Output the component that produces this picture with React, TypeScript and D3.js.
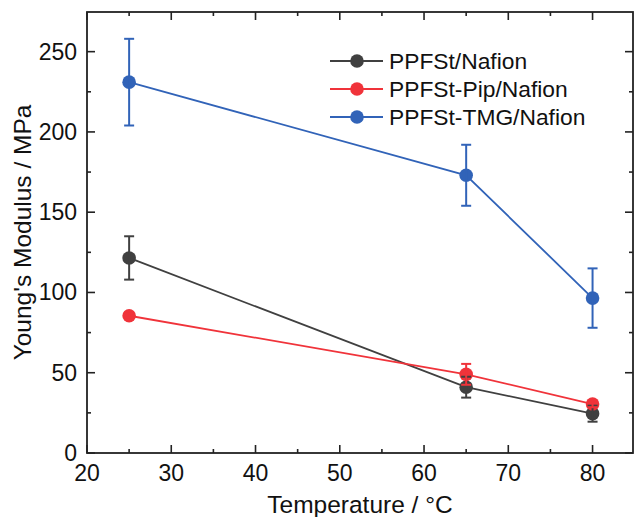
import * as d3 from "d3";

const temps = [25, 65, 80];
const seriesNames = ["PPFSt/Nafion", "PPFSt-Pip/Nafion", "PPFSt-TMG/Nafion"];
const seriesColors = ["#404040", "#f0333a", "#3163b8"];
const modulus = [
  [121.5, 41, 24.5],
  [85.5, 49, 30.5],
  [231, 173, 96.5],
];
const modulusErr = [
  [13.5, 6.5, 5],
  [1.2, 6.5, 2],
  [27, 19, 18.5],
];
const xTicks = [20, 30, 40, 50, 60, 70, 80];
const yTicks = [0, 50, 100, 150, 200, 250];

const W = 635;
const H = 517;
const plot = { left: 87, right: 633, top: 12, bottom: 453 };

export default function App() {
  const x = d3.scaleLinear().domain([20, 84.8]).range([plot.left, plot.right]);
  const y = d3.scaleLinear().domain([0, 274.7]).range([plot.bottom, plot.top]);
  const line = d3
    .line<number>()
    .x((_, i) => x(temps[i]))
    .y((d) => y(d));

  const xMinor = d3.range(25, 85, 10);
  const yMinor = d3.range(25, 275, 50);
  const font = "'Liberation Sans', Arial, sans-serif";
  const axisColor = "#222";

  return (
    <div style={{ position: "absolute", left: 0, top: 0 }}>
      <svg width={W} height={H} style={{ display: "block", background: "#fff" }} fontFamily={font}>
        {/* ticks, inward on all four sides */}
        <g stroke={axisColor} strokeWidth={1.6}>
          {xTicks.map((t) => (
            <g key={"xt" + t}>
              <line x1={x(t)} x2={x(t)} y1={plot.bottom} y2={plot.bottom - 8} />
              <line x1={x(t)} x2={x(t)} y1={plot.top} y2={plot.top + 8} />
            </g>
          ))}
          {xMinor.map((t) => (
            <g key={"xm" + t}>
              <line x1={x(t)} x2={x(t)} y1={plot.bottom} y2={plot.bottom - 4} />
              <line x1={x(t)} x2={x(t)} y1={plot.top} y2={plot.top + 4} />
            </g>
          ))}
          {yTicks.map((t) => (
            <g key={"yt" + t}>
              <line x1={plot.left} x2={plot.left + 8} y1={y(t)} y2={y(t)} />
              <line x1={plot.right} x2={plot.right - 8} y1={y(t)} y2={y(t)} />
            </g>
          ))}
          {yMinor.map((t) => (
            <g key={"ym" + t}>
              <line x1={plot.left} x2={plot.left + 4} y1={y(t)} y2={y(t)} />
              <line x1={plot.right} x2={plot.right - 4} y1={y(t)} y2={y(t)} />
            </g>
          ))}
        </g>
        <rect
          x={plot.left}
          y={plot.top}
          width={plot.right - plot.left}
          height={plot.bottom - plot.top}
          fill="none"
          stroke={axisColor}
          strokeWidth={1.8}
        />

        {/* tick labels */}
        <g fontSize={23} fill="#111">
          {xTicks.map((t) => (
            <text key={"xl" + t} x={x(t)} y={481} textAnchor="middle">
              {t}
            </text>
          ))}
          {yTicks.map((t) => (
            <text key={"yl" + t} x={77} y={y(t) + 8} textAnchor="end">
              {t}
            </text>
          ))}
        </g>

        {/* axis titles */}
        <text x={(plot.left + plot.right) / 2} y={513} textAnchor="middle" fontSize={24.5} fill="#111">
          Temperature / °C
        </text>
        <text
          transform={`translate(31,${(plot.top + plot.bottom) / 2}) rotate(-90)`}
          textAnchor="middle"
          fontSize={24.5}
          fill="#111"
        >
          Young's Modulus / MPa
        </text>

        {/* series lines and markers */}
        {modulus.map((vals, s) => (
          <g key={"s" + s}>
            <path d={line(vals) ?? ""} fill="none" stroke={seriesColors[s]} strokeWidth={1.8} />
            {vals.map((v, i) => (
              <circle key={i} cx={x(temps[i])} cy={y(v)} r={6.8} fill={seriesColors[s]} />
            ))}
          </g>
        ))}

        {/* error bars */}
        {modulus.map((vals, s) => (
          <g key={"e" + s} stroke={seriesColors[s]} strokeWidth={2}>
            {vals.map((v, i) => {
              const cx = x(temps[i]);
              const hi = y(v + modulusErr[s][i]);
              const lo = y(v - modulusErr[s][i]);
              return (
                <g key={i}>
                  <line x1={cx} x2={cx} y1={hi} y2={lo} />
                  <line x1={cx - 5} x2={cx + 5} y1={hi} y2={hi} />
                  <line x1={cx - 5} x2={cx + 5} y1={lo} y2={lo} />
                </g>
              );
            })}
          </g>
        ))}

        {/* legend */}
        {seriesNames.map((name, s) => {
          const cy = 61 + s * 28;
          return (
            <g key={"l" + s}>
              <line x1={330} x2={383} y1={cy} y2={cy} stroke={seriesColors[s]} strokeWidth={1.8} />
              <circle cx={357} cy={cy} r={6.8} fill={seriesColors[s]} />
              <text x={389} y={cy + 8} fontSize={22.8} fill="#111">
                {name}
              </text>
            </g>
          );
        })}
      </svg>
    </div>
  );
}
